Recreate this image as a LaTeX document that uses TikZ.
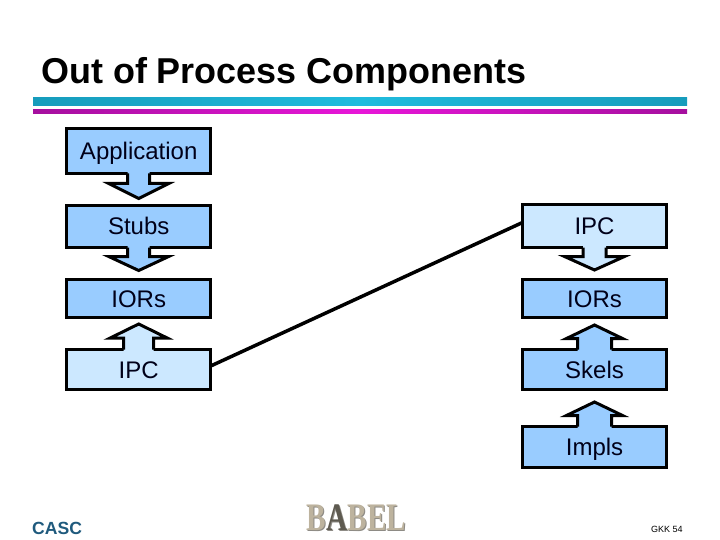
\documentclass[tikz,border=0pt]{standalone}
\usepackage{fontspec}
\setmainfont{Liberation Sans}
\newfontfamily\logofont{Liberation Serif}
\definecolor{boxdark}{HTML}{99CCFF}
\definecolor{boxlight}{HTML}{CCE8FF}
\definecolor{cascblue}{HTML}{1F5A7D}
\definecolor{stone}{HTML}{BDB39E}
\definecolor{stonedark}{HTML}{5E5A50}
\definecolor{barcyanend}{HTML}{169CBC}
\definecolor{barcyanmid}{HTML}{20BCDE}
\definecolor{barpurple}{HTML}{A50F9E}
\definecolor{barmagenta}{HTML}{E816D8}
% anchor, direction (1 down, -1 up), half shaft, half wing, wing offset, tip offset, colour
\newcommand{\blockarrow}[7]{%
  \begin{scope}[shift={(#1)},yscale=#2]
    \fill[#7] (-#3,-3) -- (-#3,#5) -- (-#4,#5) -- (0,#6) -- (#4,#5) -- (#3,#5) -- (#3,-3) -- cycle;
    \draw[blockline] (-#3,0) -- (-#3,#5) -- (-#4,#5) -- (0,#6) -- (#4,#5) -- (#3,#5) -- (#3,0);
  \end{scope}}
\begin{document}
\begin{tikzpicture}[x=1pt,y=-1pt,
    blockline/.style={line width=3pt,black,line join=miter},
    box/.style={draw=black,line width=3pt,minimum width=144pt,outer sep=0pt,inner sep=0pt,
      text height=17pt,text depth=0pt,font=\fontsize{24}{24}\selectfont,text=black!90!blue},
    dark/.style={box,fill=boxdark},
    light/.style={box,fill=boxlight}]
  \useasboundingbox (0,0) rectangle (720,540);

  % title and the two bars
  \node[anchor=base west,inner sep=0pt,font=\fontsize{35.95}{36}\selectfont\bfseries] (title) at (41,83.5) {Out of Process Components};
  \shade[left color=barcyanend,right color=barcyanend,middle color=barcyanmid] (33,98) rectangle (687,106);
  \shade[left color=barpurple,right color=barpurple,middle color=barmagenta] (33,110) rectangle (687,114);

  % left stack
  \node[dark,minimum height=45pt]  (app)   at (138.7,151)   {Application};
  \node[dark,minimum height=42pt]  (stubs) at (138.7,226.5) {Stubs};
  \node[dark,minimum height=38pt]  (iorl)  at (138.7,298.5) {IORs};
  \node[light,minimum height=40pt] (ipcl)  at (138.7,369.5) {IPC};

  % right stack
  \node[light,minimum height=43pt] (ipcr)  at (594.5,226)   {IPC};
  \node[dark,minimum height=38pt]  (iorr)  at (594.5,298.5) {IORs};
  \node[dark,minimum height=40pt]  (skels) at (594.5,369.5) {Skels};
  \node[dark,minimum height=41pt]  (impls) at (594.5,447)   {Impls};

  % link between the stacks
  \draw[line width=3.5pt,black] ([yshift=3.5pt]ipcl.east) -- ([yshift=3.5pt]ipcr.west);

  % block arrows
  \blockarrow{app.south}{1}{11}{30}{10}{25}{boxdark}
  \blockarrow{stubs.south}{1}{11}{30}{9}{23}{boxdark}
  \blockarrow{ipcr.south}{1}{11.5}{30}{9}{22.5}{boxlight}
  \blockarrow{ipcl.north}{-1}{15}{28.5}{11.5}{25.5}{boxlight}
  \blockarrow{skels.north}{-1}{17}{28}{11}{24.5}{boxdark}
  \blockarrow{impls.north}{-1}{17}{28}{11}{24.5}{boxdark}

  % footer
  \node[anchor=base west,inner sep=0pt,font=\fontsize{17.6}{18}\selectfont\bfseries,text=cascblue] (casc) at (32,534.5) {CASC};
  \node[anchor=base,inner sep=0pt,font=\fontsize{39}{39}\logofont\bfseries,text=stonedark!70!white] (logos) at (357.5,531.5) {\scalebox{.75}[1]{BABEL}};
  \node[anchor=base,inner sep=0pt,font=\fontsize{39}{39}\logofont\bfseries,text=stone] (logo) at (356.5,530.5) {\scalebox{.75}[1]{B\textcolor{stonedark}{A}BEL}};
  \node[anchor=base west,inner sep=0pt,font=\fontsize{9}{9}\selectfont] (page) at (651,532) {GKK 54};
\end{tikzpicture}
\end{document}
